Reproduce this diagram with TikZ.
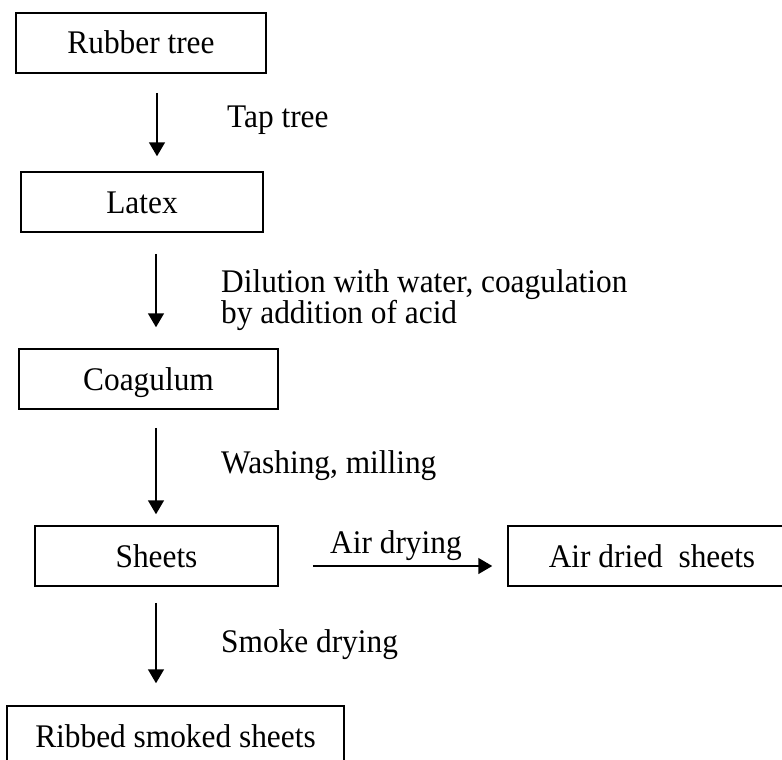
\documentclass[tikz,border=0pt]{standalone}
\usepackage{fontspec}
\setmainfont{Liberation Serif}[FakeStretch=0.95]
\usetikzlibrary{arrows.meta}
\begin{document}
\begin{tikzpicture}[x=1pt,y=-1pt,
  box/.style={draw,line width=1.5pt,inner sep=0pt,minimum height=60pt,
    text height=22pt,text depth=0pt,font=\fontsize{33}{31}\selectfont},
  lbl/.style={anchor=base west,inner sep=0pt,font=\fontsize{33}{31}\selectfont},
  arr/.style={line width=1.5pt,-{Triangle[length=14pt,width=16pt]}}]
\useasboundingbox (0,0) rectangle (782,760);
\node[box,minimum width=250pt] (rt) at (141,43) {Rubber tree};
\node[box,minimum width=242pt] (lx) at (142,202) {Latex};
\node[box,minimum width=259pt] (cg) at (148.5,379) {Coagulum};
\node[box,minimum width=243pt] (sh) at (156.5,556) {Sheets};
\node[box,minimum width=288pt] (ad) at (652,556) {Air dried\ \ sheets};
\node[box,minimum width=337pt] (rs) at (175.5,736) {Ribbed smoked sheets};
\coordinate (ax1) at (157,0);
\coordinate (ax) at (156,0);
\coordinate (ay) at (0,566);
\draw[arr,shorten <=19pt,shorten >=15pt] (rt.south -| ax1) -- (lx.north -| ax1);
\draw[arr,shorten <=21pt,shorten >=21pt] (lx.south -| ax) -- (cg.north -| ax);
\draw[arr,shorten <=18pt,shorten >=11pt] (cg.south -| ax) -- (sh.north -| ax);
\draw[arr,shorten <=16pt,shorten >=22pt] (sh.south -| ax) -- (rs.north -| ax);
\draw[arr,shorten <=34pt,shorten >=15pt] (sh.east |- ay) -- (ad.west |- ay);
\node[lbl] (t1) at (227,127) {Tap tree};
\node[lbl] (t2) at (221,292.5) {Dilution with water, coagulation};
\node[lbl] (t2b) at (221,323) {by addition of acid};
\node[lbl] (t3) at (221,473) {Washing, milling};
\node[lbl] (t4) at (330,553) {Air drying};
\node[lbl] (t5) at (221,652) {Smoke drying};
\end{tikzpicture}
\end{document}
